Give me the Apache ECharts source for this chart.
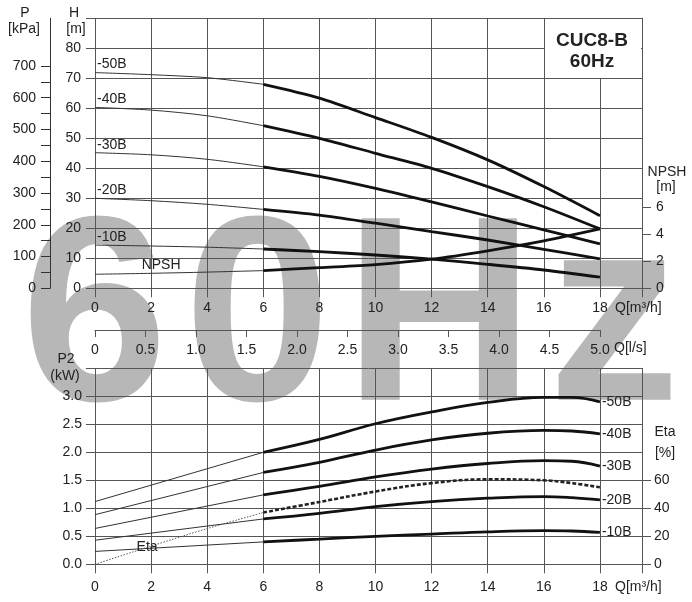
<!DOCTYPE html>
<html><head><meta charset="utf-8">
<script src="https://cdn.jsdelivr.net/npm/echarts@6/dist/echarts.min.js"></script>
<style>html,body{margin:0;padding:0;background:#fff}#c{width:692px;height:602px}</style>
</head><body><div id="c"></div>
<script>
// ---------- data ----------
const curveNames = ['-50B', '-40B', '-30B', '-20B', '-10B'];
// Head curves H [m] vs Q [m3/h]
const qTop = [0, 2, 4, 6, 8, 10, 12, 14, 16, 18];
const h50B = [71.9, 71.2, 70.2, 68.0, 63.4, 56.9, 50.3, 42.8, 33.9, 24.2];
const h40B = [60.3, 59.4, 57.5, 54.2, 50.0, 45.0, 40.0, 33.9, 27.2, 19.8];
const h30B = [45.2, 44.5, 43.0, 40.5, 37.3, 33.3, 28.8, 24.1, 19.5, 14.8];
const h20B = [30.0, 29.2, 28.0, 26.3, 24.4, 21.7, 18.9, 16.1, 13.0, 9.8];
const h10B = [14.4, 14.1, 13.7, 13.1, 12.2, 11.1, 9.7, 8.0, 6.1, 3.7];
const npsh = [1.04, 1.11, 1.20, 1.31, 1.53, 1.76, 2.16, 2.78, 3.51, 4.40];
// Power curves P2 [kW] vs Q [m3/h]
const qBot = [0, 6, 8, 10, 12, 14, 16, 17, 18];
const p50B = [1.12, 2.00, 2.23, 2.51, 2.72, 2.89, 2.98, 2.98, 2.90];
const p40B = [0.886, 1.64, 1.82, 2.04, 2.22, 2.34, 2.39, 2.38, 2.33];
const p30B = [0.64, 1.24, 1.39, 1.56, 1.70, 1.80, 1.85, 1.84, 1.755];
const p20B = [0.43, 0.81, 0.91, 1.03, 1.12, 1.18, 1.21, 1.19, 1.15];
const p10B = [0.23, 0.40, 0.45, 0.50, 0.54, 0.58, 0.60, 0.595, 0.57];
// Efficiency Eta [%]
const qEta = [0, 2, 4, 6, 8, 10, 12, 14, 16, 17, 18];
const eta = [0, 13, 25.5, 37, 44.5, 52, 58, 60.7, 60, 58, 55];
// tick labels
const pTicks = [0, 100, 200, 300, 400, 500, 600, 700];
const pMinorTicks = [0, 50, 100, 150, 200, 250, 300, 350, 400, 450, 500, 550, 600, 650, 700];
const npshTicks = [0, 2, 4, 6];
const etaTicks = [0, 20, 40, 60];
const qMaxLabel = 18;

// ---------- helpers ----------
const FONT = '"Liberation Sans", Arial, sans-serif';
const TXT = '#222';
const GRIDC = '#555';
const headCurves = [h50B, h40B, h30B, h20B, h10B];
const powCurves = [p50B, p40B, p30B, p20B, p10B];
const SPLIT_Q = 6;
function pairs(xs, ys, lo, hi) {
  const out = [];
  xs.forEach((x, i) => { if (x >= lo && x <= hi) out.push([x, ys[i]]); });
  return out;
}
const lbl = { fontFamily: FONT, fontSize: 14, color: TXT };
const lblPlain = Object.assign({ textBorderWidth: 0, opacity: 1 }, lbl);

const series = [];
headCurves.forEach((h, i) => {
  series.push({ type: 'line', name: curveNames[i], xAxisIndex: 0, yAxisIndex: 0, data: pairs(qTop, h, 0, SPLIT_Q),
    showSymbol: false, smooth: 0.3, lineStyle: { width: 1, color: '#333' }, silent: true, z: 3 });
  series.push({ type: 'line', name: curveNames[i], xAxisIndex: 0, yAxisIndex: 0, data: pairs(qTop, h, SPLIT_Q, 99),
    showSymbol: false, smooth: 0.3, lineStyle: { width: 2.8, color: '#111' }, silent: true, z: 4 });
  series.push({ type: 'scatter', xAxisIndex: 0, yAxisIndex: 0, symbolSize: 0, itemStyle: { color: '#fff', opacity: 0 },
    data: [{ value: [qTop[0], h[0]] }], silent: true, z: 5,
    label: Object.assign({ show: true, position: 'top', align: 'left', distance: 1, offset: [2, 0], formatter: curveNames[i] }, lblPlain) });
});
series.push({ type: 'line', name: 'NPSH', xAxisIndex: 0, yAxisIndex: 2, data: pairs(qTop, npsh, 0, SPLIT_Q),
  showSymbol: false, smooth: 0.3, lineStyle: { width: 1, color: '#333' }, silent: true, z: 3 });
series.push({ type: 'line', name: 'NPSH', xAxisIndex: 0, yAxisIndex: 2, data: pairs(qTop, npsh, SPLIT_Q, 99),
  showSymbol: false, smooth: 0.3, lineStyle: { width: 2.8, color: '#111' }, silent: true, z: 4 });
series.push({ type: 'scatter', xAxisIndex: 0, yAxisIndex: 2, symbolSize: 0, itemStyle: { color: '#fff', opacity: 0 },
  data: [{ value: [qTop[1], npsh[1]] }], silent: true, z: 5,
  label: Object.assign({ show: true, position: 'top', distance: 1, offset: [10, 0], formatter: 'NPSH' }, lblPlain) });

powCurves.forEach((p, i) => {
  series.push({ type: 'line', name: curveNames[i], xAxisIndex: 2, yAxisIndex: 4, data: pairs(qBot, p, 0, SPLIT_Q),
    showSymbol: false, smooth: false, lineStyle: { width: 1, color: '#333' }, silent: true, z: 3 });
  series.push({ type: 'line', name: curveNames[i], xAxisIndex: 2, yAxisIndex: 4, data: pairs(qBot, p, SPLIT_Q, 99),
    showSymbol: false, smooth: 0.4, lineStyle: { width: 2.8, color: '#111' }, silent: true, z: 4,
    endLabel: Object.assign({ show: true, distance: 2, formatter: curveNames[i] }, lblPlain) });
});
series.push({ type: 'line', name: 'Eta', xAxisIndex: 2, yAxisIndex: 5, data: pairs(qEta, eta, 0, SPLIT_Q),
  showSymbol: false, smooth: 0.3, lineStyle: { width: 1, color: '#555', type: [1.5, 1.5] }, silent: true, z: 3 });
series.push({ type: 'line', name: 'Eta', xAxisIndex: 2, yAxisIndex: 5, data: pairs(qEta, eta, SPLIT_Q, 99),
  showSymbol: false, smooth: 0.4, lineStyle: { width: 2.6, color: '#222', type: [4, 2] }, silent: true, z: 4 });
series.push({ type: 'scatter', xAxisIndex: 2, yAxisIndex: 5, symbolSize: 0, itemStyle: { color: '#fff', opacity: 0 },
  data: [{ value: [qEta[1], eta[1]] }], silent: true, z: 5,
  label: Object.assign({ show: true, position: 'inside', offset: [-4, 1], formatter: 'Eta' }, lblPlain) });

const split = { show: true, lineStyle: { color: GRIDC, width: 1 } };
function qAxis(gridIndex, margin) {
  return { type: 'value', gridIndex, min: 0, max: 19.5, interval: 2,
    axisLine: { show: true, lineStyle: { color: GRIDC } },
    axisTick: { show: true, length: 9, lineStyle: { color: GRIDC } },
    splitLine: split,
    axisLabel: Object.assign({ margin, interval: 0, formatter: v => (v <= qMaxLabel ? String(v) : '') }, lbl) };
}

const wm = (ch, x) => ({ type: 'text', x, y: 327, z: -5, silent: true,
  style: { text: ch, font: 'bold 264px ' + FONT, fill: '#b7b7b7', align: 'left', verticalAlign: 'middle', textAlign: 'left', textVerticalAlign: 'middle' } });
const gt = (t, x, y, align, font) => ({ type: 'text', x, y, z: 60, silent: true,
  style: { text: t, font: font || ('14px ' + FONT), fill: TXT, align: align || 'center', verticalAlign: 'middle', textAlign: align || 'center', textVerticalAlign: 'middle' } });

const option = {
  animation: false,
  backgroundColor: '#fff',
  grid: [
    { left: 95, top: 18.3, width: 547, height: 270 },
    { left: 95, top: 329, width: 505, height: 1 },
    { left: 95, top: 368.3, width: 547, height: 196 }
  ],
  xAxis: [
    qAxis(0, 13),
    { type: 'value', gridIndex: 1, min: 0, max: 5, interval: 0.5,
      axisLine: { show: true, lineStyle: { color: GRIDC } },
      axisTick: { show: true, length: 7, lineStyle: { color: GRIDC } },
      splitLine: { show: false },
      axisLabel: Object.assign({ margin: 13, interval: 0, formatter: v => (v === 0 ? '0' : v.toFixed(1)) }, lbl) },
    qAxis(2, 16)
  ],
  yAxis: [
    { type: 'value', gridIndex: 0, min: 0, max: 90, interval: 10, position: 'left',
      axisLine: { show: false }, axisTick: { show: true, length: 9, lineStyle: { color: GRIDC } },
      splitLine: split,
      axisLabel: Object.assign({ margin: 14, formatter: v => (v <= 80 ? String(v) : '') }, lbl) },
    { type: 'value', gridIndex: 0, min: 0, max: 850, interval: 50, position: 'left', offset: 45,
      axisLine: { show: true, lineStyle: { color: '#333' } },
      axisTick: { show: true, length: 9, customValues: pMinorTicks, lineStyle: { color: '#333' } },
      splitLine: { show: false },
      axisLabel: Object.assign({ margin: 14, customValues: pTicks, formatter: v => (v % 100 === 0 && v <= 700 ? String(v) : '') }, lbl) },
    { type: 'value', gridIndex: 0, min: 0, max: 20, interval: 2, position: 'right',
      axisLine: { show: true, lineStyle: { color: GRIDC } },
      axisTick: { show: true, length: 9, customValues: npshTicks, lineStyle: { color: GRIDC } },
      splitLine: { show: false },
      axisLabel: Object.assign({ margin: 14, customValues: npshTicks, formatter: v => (v <= 6 ? String(v) : '') }, lbl) },
    { type: 'value', gridIndex: 1, min: 0, max: 1, show: false },
    { type: 'value', gridIndex: 2, min: 0, max: 3.5, interval: 0.5, position: 'left',
      axisLine: { show: false }, axisTick: { show: true, length: 9, lineStyle: { color: GRIDC } },
      splitLine: split,
      axisLabel: Object.assign({ margin: 13, formatter: v => (v <= 3 ? v.toFixed(1) : '') }, lbl) },
    { type: 'value', gridIndex: 2, min: 0, max: 140, interval: 20, position: 'right',
      axisLine: { show: true, lineStyle: { color: GRIDC } },
      axisTick: { show: true, length: 9, customValues: etaTicks, lineStyle: { color: GRIDC } },
      splitLine: { show: false },
      axisLabel: Object.assign({ margin: 12, customValues: etaTicks, formatter: v => (v <= 60 ? String(v) : '') }, lbl) }
  ],
  graphic: [
    wm('6', 21), wm('0', 184), wm('H', 344), wm('z', 548),
    { type: 'rect', z: 50, silent: true, shape: { x: 545, y: 19, width: 96, height: 59 }, style: { fill: '#fff' } },
    gt('CUC8-B', 592, 41, 'center', 'bold 19px ' + FONT),
    gt('60Hz', 592, 62, 'center', 'bold 19px ' + FONT),
    gt('P', 25, 13), gt('[kPa]', 24, 29),
    gt('H', 74, 13), gt('[m]', 76, 29),
    gt('NPSH', 667, 172), gt('[m]', 666, 187),
    gt('Q[m³/h]', 615, 308, 'left'),
    gt('Q[l/s]', 614, 348, 'left'),
    gt('Q[m³/h]', 615, 587, 'left'),
    gt('P2', 66, 359), gt('(kW)', 65, 376),
    gt('Eta', 665, 432), gt('[%]', 665, 453)
  ],
  series
};
const chart = echarts.init(document.getElementById('c'), null, { renderer: 'canvas' });
chart.setOption(option);
</script>
</body></html>
